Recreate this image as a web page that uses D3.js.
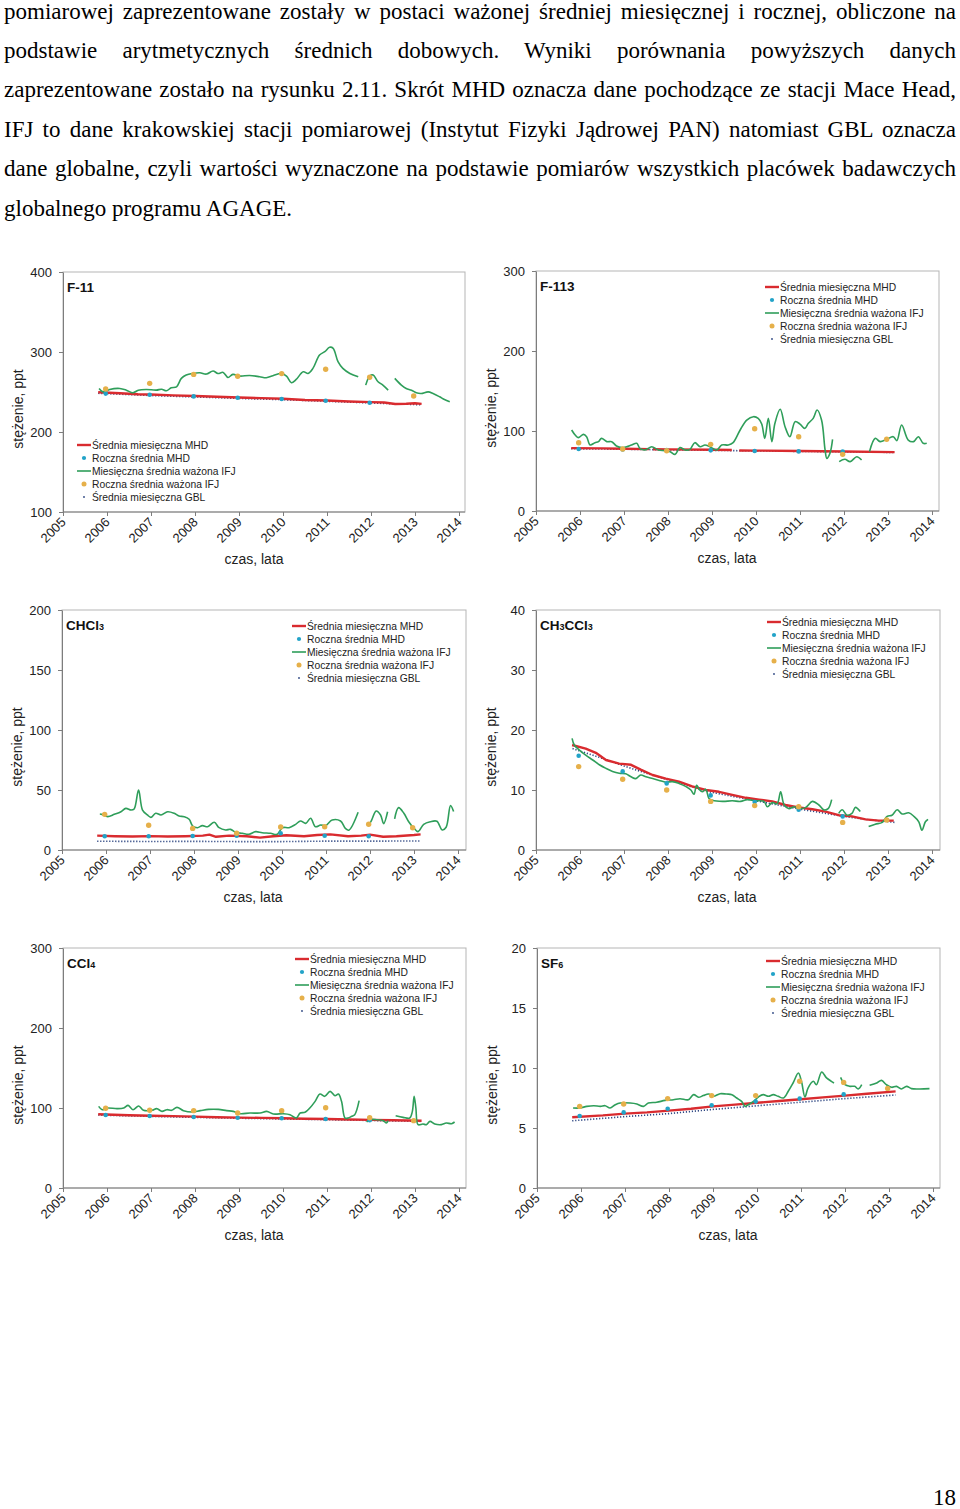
<!DOCTYPE html>
<html><head><meta charset="utf-8">
<script src="https://cdn.jsdelivr.net/npm/d3@7"></script>
<style>
body{margin:0;background:#fff;}
svg{display:block;}
</style></head><body>
<svg id="page" width="960" height="1509"></svg>
<script>
// ---------- text ----------
const paragraphLines = [
  "pomiarowej zaprezentowane zostały w postaci ważonej średniej miesięcznej i rocznej, obliczone na",
  "podstawie arytmetycznych średnich dobowych. Wyniki porównania powyższych danych",
  "zaprezentowane zostało na rysunku 2.11. Skrót MHD oznacza dane pochodzące ze stacji Mace Head,",
  "IFJ to dane krakowskiej stacji pomiarowej (Instytut Fizyki Jądrowej PAN) natomiast GBL oznacza",
  "dane globalne, czyli wartości wyznaczone na podstawie pomiarów wszystkich placówek badawczych",
  "globalnego programu AGAGE."
];
const pageNumber = "18";
const legendLabels = ["Średnia miesięczna MHD","Roczna średnia MHD","Miesięczna średnia ważona IFJ","Roczna średnia ważona IFJ","Średnia miesięczna GBL"];
const xTickYears = [2005,2006,2007,2008,2009,2010,2011,2012,2013,2014];
const xLabel = "czas, lata";
const yLabel = "stężenie, ppt";
const mhdAnnualYears = [2005.97,2006.97,2007.97,2008.97,2009.97,2010.97,2011.97];
const ifjAnnualYears = [2005.97,2006.97,2007.97,2008.97,2009.97,2010.97,2011.97,2012.97];

// ---------- F-11 ----------
const f11Ticks = [100,200,300,400];
const f11Mhd = [[2005.8,249.6],[2006.3,248.5],[2006.7,247.2],[2007,246.8],[2007.5,245.8],[2008,245],[2008.5,244],[2009,243.2],[2009.5,242.3],[2010,241.5],[2010.5,240],[2011,239.3],[2011.5,238.2],[2012,237.3],[2012.3,236.8],[2012.55,235],[2012.8,235.3],[2013,236],[2013.15,235.2]];
const f11Gbl = [[2005.8,248.4],[2007,245.6],[2008,243.8],[2009,242],[2010,240.4],[2011,238.4],[2012,236.3],[2013.15,234]];
const f11Ifj = [[2005.82,254.4],[2005.91,250.2],[2006.06,253.2],[2006.29,254.4],[2006.44,252.3],[2006.59,249],[2006.71,252.3],[2006.89,253.2],[2007.12,252.3],[2007.24,253.5],[2007.35,251.5],[2007.46,255.3],[2007.58,256.5],[2007.69,267],[2007.8,271.2],[2007.95,273.2],[2008.11,274],[2008.26,272.4],[2008.41,276.2],[2008.52,273.2],[2008.64,274.5],[2008.75,268.2],[2008.86,272],[2009.02,269.9],[2009.24,270.7],[2009.47,269.1],[2009.62,267.8],[2009.77,270.3],[2009.96,273.2],[2010.08,269.9],[2010.19,261.5],[2010.3,265.7],[2010.46,275.3],[2010.57,273.2],[2010.68,279.5],[2010.83,296.2],[2010.95,300.4],[2011.06,305.9],[2011.14,304.6],[2011.25,287.9],[2011.36,279.5],[2011.52,273.2],[2011.71,269],
  null,
  [2011.88,258.6],[2011.97,269.9],[2012.05,271.2],[2012.16,262.8],[2012.27,258.6],[2012.39,252.3],
  null,
  [2012.54,267],[2012.69,258.6],[2012.8,254.4],[2012.92,252.3],[2013.03,249],[2013.14,248.1],[2013.3,250.2],[2013.41,248.1],[2013.56,244],[2013.67,240.6],[2013.79,237.7]];
const f11MhdAnnual = [248,246.6,244.5,242.9,241.2,239.1,236.6];
const f11IfjAnnual = [253.7,260.8,272,269.6,273,278.4,268.4,245];

// ---------- F-113 ----------
const f113Ticks = [0,100,200,300];
const f113Mhd = [[2005.8,78.6],[2006.5,78.3],[2007,77.8],[2007.57,77.4],null,[2007.66,77.2],[2008,77],[2009,76.5],[2009.45,76.2],null,[2009.62,75.7],[2010,75.5],[2011,75],[2012,74.4],[2013.15,73.6]];
const f113Gbl = [[2005.8,77.8],[2007,77.2],[2008,76.5],[2009,75.8],[2010,75.1],[2011,74.5],[2012,73.9],[2013.15,73.2]];
const f113Ifj = [[2005.81,101.3],[2005.89,95],[2005.96,91.7],[2006.08,95.8],[2006.15,92.9],[2006.23,82.5],[2006.34,85.4],[2006.42,86.7],[2006.49,90.8],[2006.61,86.7],[2006.72,86.7],[2006.83,81.3],[2006.95,79.2],[2007.06,80.4],[2007.17,82.5],[2007.29,84.6],[2007.36,78.3],[2007.48,76.3],[2007.63,80.4],[2007.78,76.3],[2007.93,75.4],[2008.05,74.2],[2008.16,70.8],[2008.27,79.2],[2008.39,76.3],[2008.5,77.1],[2008.61,85.4],[2008.73,80.4],[2008.84,82.5],[2008.95,80.4],[2009.11,76.3],[2009.22,82.5],[2009.37,82.5],[2009.48,85.4],[2009.64,101.3],[2009.79,113.7],[2009.94,117.9],[2010.05,115.8],[2010.13,108.7],[2010.2,90.8],[2010.28,115.8],[2010.36,86.7],[2010.43,109.6],[2010.55,127.1],[2010.66,105.4],[2010.77,92.9],[2010.89,111.7],[2011,108.7],[2011.11,103.3],[2011.19,109.6],[2011.3,115.8],[2011.39,126.2],[2011.49,113.7],[2011.57,76.3],[2011.61,65.8],[2011.68,72],[2011.74,89.6],
  null,
  [2011.89,61.7],[2012.02,64.6],[2012.14,61.7],[2012.29,67.9],[2012.4,63.7],
  null,
  [2012.58,74.2],[2012.71,90.8],[2012.82,86.7],[2012.97,89.6],[2013.12,92.9],[2013.2,87.9],[2013.31,107.5],[2013.46,88.7],[2013.58,86.7],[2013.69,92.9],[2013.8,84.6],[2013.88,84.6]];
const f113MhdAnnual = [77.5,77,76.2,75.8,75,74.5,74.2];
const f113IfjAnnual = [85.4,77.5,75.4,83.3,102.9,92.9,70.8,89.6];

// ---------- CHCl3 ----------
const chcl3Ticks = [0,50,100,150,200];
const chcl3Mhd = [[2005.8,12],[2006.2,11.5],[2006.6,11.2],[2007,11.6],[2007.4,11.3],[2007.8,11.5],[2008.2,12],[2008.35,12.8],[2008.5,11],[2008.8,12],[2009.2,11.5],[2009.5,10.3],[2009.8,11.5],[2010.1,12.3],[2010.5,11.5],[2010.8,12.5],[2011.1,13],[2011.5,11.5],[2011.8,12],[2012,12.8],[2012.3,11],[2012.6,11.5],[2013,12.5],[2013.15,13]];
const chcl3Gbl = [[2005.8,7.3],[2007,7.1],[2008,7.2],[2009,7],[2010,7],[2011,7.4],[2012,7.4],[2013.15,7.5]];
const chcl3Ifj = [[2005.86,30],[2005.91,29.7],[2006.04,27.8],[2006.19,29.7],[2006.34,31.9],[2006.45,34.7],[2006.57,33.3],[2006.64,34.2],[2006.74,50],[2006.83,33.3],[2006.94,29.2],[2007.02,27.2],[2007.13,30.6],[2007.25,29.2],[2007.4,31.9],[2007.55,30.6],[2007.66,28.3],[2007.78,27.8],[2007.89,25.6],[2007.97,20],[2008.08,18.6],[2008.19,20.3],[2008.31,19.4],[2008.46,23.1],[2008.57,18.6],[2008.72,16.7],[2008.83,17.2],[2008.95,14.7],[2009.1,13.9],[2009.25,13.1],[2009.4,15.3],[2009.55,14.4],[2009.74,13.9],[2009.89,13.1],[2010.01,18.6],[2010.16,18.6],[2010.31,21.4],[2010.42,24.2],[2010.54,22.2],[2010.65,26.4],[2010.76,19.4],[2010.88,20.8],[2010.99,20.3],[2011.14,25],[2011.33,24.2],[2011.44,18],[2011.52,16.5],[2011.73,31.4],
  null,
  [2011.94,21.4],[2012.01,23.1],[2012.14,32.5],[2012.24,29.2],[2012.31,22],[2012.4,31.9],
  null,
  [2012.56,26],[2012.65,35.3],[2012.77,30.6],[2012.88,23.6],[2012.99,18.5],[2013.09,15.3],[2013.22,21.4],[2013.37,23.6],[2013.52,24],[2013.64,16.7],[2013.73,19],[2013.83,37],[2013.9,32]];
const chcl3MhdAnnual = [11.4,11.4,11.7,11.9,13.9,11.9,11.4];
const chcl3IfjAnnual = [29.7,20.6,18,13.9,19.2,19.4,21.4,18.6];

// ---------- CH3CCl3 ----------
const ch3ccl3Ticks = [0,10,20,30,40];
const ch3ccl3Mhd = [[2005.82,17.5],[2006.13,16.9],[2006.36,16.2],[2006.59,15],[2006.89,14.4],[2007.16,14.2],[2007.38,13.4],[2007.65,12.5],[2007.95,11.9],[2008.25,11.4],[2008.55,10.6],[2008.86,10],[2009.16,9.7],[2009.46,9.2],[2009.77,8.7],[2010.07,8.4],[2010.37,8.1],[2010.67,7.5],[2010.97,7.1],[2011.28,6.8],[2011.58,6.4],[2011.88,5.8],[2012.18,5.6],[2012.49,5.1],[2012.79,4.9],[2013.13,4.9]];
const ch3ccl3Gbl = [[2005.83,16.9],[2006.5,15.3],[2007,14],[2007.5,12.8],[2008,11.7],[2008.5,10.6],[2009,9.6],[2009.5,8.9],[2010,8.2],[2010.5,7.5],[2011,6.8],[2011.5,6.2],[2012,5.6],[2012.5,5.1],[2013.15,4.6]];
const ch3ccl3Ifj = [[2005.82,18.6],[2005.87,17.5],[2005.98,16.7],[2006.13,15.8],[2006.29,15],[2006.44,14.2],[2006.59,13.6],[2006.74,13.1],[2006.89,12.8],[2007.04,12.7],[2007.16,12.2],[2007.27,11.9],[2007.38,12.5],[2007.5,12.2],[2007.65,11.9],[2007.8,11.6],[2007.95,11.3],[2008.1,11.4],[2008.25,11.1],[2008.4,10.6],[2008.52,10],[2008.59,9.3],[2008.65,10.8],[2008.71,10.1],[2008.78,9.7],[2008.86,10.1],[2008.93,8.6],[2009.01,8.3],[2009.24,8.1],[2009.46,8.2],[2009.65,8.1],[2009.8,8.4],[2009.99,8.2],[2010.18,8.1],[2010.26,7.2],[2010.37,7.9],[2010.48,7.7],[2010.56,9.7],[2010.64,7.5],[2010.75,6.9],[2010.86,7.2],[2010.97,6.9],[2011.13,7.1],[2011.28,8.1],[2011.43,7.5],[2011.54,6.7],[2011.64,6.9],[2011.72,8.4],
  null,
  [2011.88,6.1],[2011.96,6.7],[2012.07,5.8],[2012.18,6.1],[2012.26,7.1],[2012.37,6.4],
  null,
  [2012.56,3.9],[2012.71,4.3],[2012.87,4.6],[2012.98,5.6],[2013.09,5.8],[2013.21,6.7],[2013.32,6],[2013.47,6.2],[2013.59,5.6],[2013.7,4.7],[2013.77,3.3],[2013.85,4.7],[2013.91,5.1]];
const ch3ccl3MhdAnnual = [15.7,13.1,11.1,9.1,8.0,6.7,5.6];
const ch3ccl3IfjAnnual = [13.9,11.8,10,8.1,7.4,7.2,4.6,5];

// ---------- CCl4 ----------
const ccl4Ticks = [0,100,200,300];
const ccl4Mhd = [[2005.8,92.2],[2006.5,91],[2007,90.4],[2007.5,89.8],[2008,89.2],[2008.5,88.5],[2009,88],[2009.5,87.6],[2010,87.1],[2010.5,86.6],[2011,86.2],[2011.5,85.6],[2012,85.2],[2012.5,84.6],[2013.15,84]];
const ccl4Gbl = [[2005.8,91.2],[2007,89.5],[2008,88.3],[2009,87.2],[2010,86.3],[2011,85.4],[2012,84.4],[2013.15,83.3]];
const ccl4Ifj = [[2005.81,102],[2005.89,97.9],[2006,100],[2006.23,99.2],[2006.38,100],[2006.48,103.3],[2006.59,97.9],[2006.72,102.5],[2006.83,97.1],[2007.02,97.1],[2007.13,99.2],[2007.25,95.8],[2007.36,97.9],[2007.47,97.1],[2007.59,100.8],[2007.74,96.7],[2007.93,95],[2008.12,96.7],[2008.31,98.3],[2008.53,98.3],[2008.72,96.7],[2008.87,95.8],[2009.02,92.9],[2009.25,93.7],[2009.48,93.7],[2009.63,95.8],[2009.78,92.5],[2010.01,92.9],[2010.16,91.7],[2010.3,87.5],[2010.39,93.7],[2010.5,94.6],[2010.61,100],[2010.73,108.3],[2010.84,117.5],[2010.95,114.6],[2011.07,120.8],[2011.18,115.4],[2011.26,117.5],[2011.33,108.3],[2011.41,87.5],[2011.48,87.5],[2011.56,89.6],[2011.63,91.7],[2011.73,109.2],
  null,
  [2011.9,82.5],[2011.97,85.4],[2012.13,85.4],[2012.28,84.2],[2012.35,81.2],[2012.39,84.2],
  null,
  [2012.56,90.4],[2012.73,88.3],[2012.88,87.5],[2012.94,95.8],[2012.98,114.6],[2013.02,100],[2013.07,79.2],[2013.18,80],[2013.26,79.2],[2013.34,83.3],[2013.45,80],[2013.6,79.2],[2013.71,81.2],[2013.83,80.4],[2013.9,82.5]];
const ccl4MhdAnnual = [91.2,90,88.7,87.9,87.1,86.2,84.6];
const ccl4IfjAnnual = [99.6,97.1,96.7,93.7,96.7,100.4,87.9,84.2];

// ---------- SF6 ----------
const sf6Ticks = [0,5,10,15,20];
const sf6Mhd = [[2005.8,5.9],[2006.5,6.05],[2007,6.2],[2007.5,6.3],[2008,6.45],[2008.5,6.6],[2009,6.8],[2009.5,6.95],[2010,7.1],[2010.5,7.25],[2011,7.4],[2011.5,7.55],[2012,7.7],[2012.5,7.85],[2013.15,8.05]];
const sf6Gbl = [[2005.8,5.6],[2007,5.95],[2008,6.2],[2009,6.55],[2010,6.85],[2011,7.15],[2012,7.45],[2013.15,7.75]];
const sf6Ifj = [[2005.82,6.67],[2005.98,6.67],[2006.13,6.8],[2006.29,6.86],[2006.44,6.8],[2006.55,6.86],[2006.66,6.67],[2006.78,6.94],[2006.89,7.08],[2007.12,7.08],[2007.27,7],[2007.42,6.8],[2007.53,7.08],[2007.72,7.14],[2007.91,7.3],[2008.1,7.36],[2008.25,7.44],[2008.44,7.36],[2008.56,7.78],[2008.67,7.56],[2008.78,7.7],[2008.9,7.83],[2009.01,7.64],[2009.16,7.86],[2009.31,7.83],[2009.43,7.78],[2009.54,7.5],[2009.65,7.22],[2009.73,6.8],[2009.8,6.94],[2009.92,7.22],[2010.03,7.58],[2010.14,7.78],[2010.26,7.64],[2010.37,7.78],[2010.48,7.64],[2010.6,7.5],[2010.71,8.06],[2010.82,8.75],[2010.94,9.58],[2011.01,8.89],[2011.09,7.58],[2011.16,8.33],[2011.28,8.89],[2011.35,8.61],[2011.47,9.67],[2011.58,9.17],[2011.69,8.89],[2011.75,8.75],
  null,
  [2011.9,9.22],[2012,8.61],[2012.11,8.47],[2012.22,8.47],[2012.3,8.25],[2012.38,8.61],
  null,
  [2012.56,8.56],[2012.72,8.75],[2012.83,8.97],[2012.94,8.61],[2013.06,8.39],[2013.17,8.47],[2013.28,8.25],[2013.4,8.47],[2013.51,8.28],[2013.7,8.25],[2013.92,8.28]];
const sf6MhdAnnual = [6.0,6.3,6.6,6.9,7.2,7.45,7.8];
const sf6IfjAnnual = [6.8,7.0,7.45,7.7,7.7,8.9,8.8,8.3];

// ---------- panel table (layout + references to data arrays) ----------
const panels = [
  {title:[["F-11",0]], x0:63, x1:465, y0:272, y1:512, ymin:100, ymax:400, ticks:f11Ticks, lx:77, ly:445,
   mhd:f11Mhd, gbl:f11Gbl, ifj:f11Ifj, mhdA:f11MhdAnnual, ifjA:f11IfjAnnual},
  {title:[["F-113",0]], x0:536, x1:939, y0:271, y1:511, ymin:0, ymax:300, ticks:f113Ticks, lx:765, ly:287,
   mhd:f113Mhd, gbl:f113Gbl, ifj:f113Ifj, mhdA:f113MhdAnnual, ifjA:f113IfjAnnual},
  {title:[["CHCl",0],["3",1]], x0:62, x1:466, y0:610, y1:850, ymin:0, ymax:200, ticks:chcl3Ticks, lx:292, ly:626,
   mhd:chcl3Mhd, gbl:chcl3Gbl, ifj:chcl3Ifj, mhdA:chcl3MhdAnnual, ifjA:chcl3IfjAnnual},
  {title:[["CH",0],["3",1],["CCl",0],["3",1]], x0:536, x1:940, y0:610, y1:850, ymin:0, ymax:40, ticks:ch3ccl3Ticks, lx:767, ly:622,
   mhd:ch3ccl3Mhd, gbl:ch3ccl3Gbl, ifj:ch3ccl3Ifj, mhdA:ch3ccl3MhdAnnual, ifjA:ch3ccl3IfjAnnual},
  {title:[["CCl",0],["4",1]], x0:63, x1:466, y0:948, y1:1188, ymin:0, ymax:300, ticks:ccl4Ticks, lx:295, ly:959,
   mhd:ccl4Mhd, gbl:ccl4Gbl, ifj:ccl4Ifj, mhdA:ccl4MhdAnnual, ifjA:ccl4IfjAnnual},
  {title:[["SF",0],["6",1]], x0:537, x1:940, y0:948, y1:1188, ymin:0, ymax:20, ticks:sf6Ticks, lx:766, ly:961,
   mhd:sf6Mhd, gbl:sf6Gbl, ifj:sf6Ifj, mhdA:sf6MhdAnnual, ifjA:sf6IfjAnnual}
];

const C = {red:"#d92b2f", green:"#2f9e5a", blue:"#22a3c8", orange:"#e6b04a", gbl:"#2d4682", axis:"#7d7d7d", frame:"#b5b5b5", text:"#222"};
const SANS = "'Liberation Sans', Arial, Helvetica, sans-serif";
const SERIF = "'Liberation Serif', 'Times New Roman', serif";

const svg = d3.select("#page");

// paragraph
const para = svg.append("g").attr("font-family", SERIF).attr("font-size", 23).attr("fill", "#000");
paragraphLines.forEach((t, i) => {
  const tx = para.append("text").attr("x", 4).attr("y", 18.5 + i * 39.4).text(t);
  if (i < paragraphLines.length - 1) {
    const L = tx.node().getComputedTextLength();
    const n = (t.match(/ /g) || []).length;
    if (L < 952) tx.attr("word-spacing", (952 - L) / n);
    else tx.attr("textLength", 952).attr("lengthAdjust", "spacingAndGlyphs");
  }
});
svg.append("text").attr("x", 956).attr("y", 1505).attr("text-anchor", "end")
  .attr("font-family", SERIF).attr("font-size", 23).text(pageNumber);

function drawPanel(p) {
  const g = svg.append("g").attr("font-family", SANS);
  const x = d3.scaleLinear().domain([2005, 2014]).range([p.x0, p.x0 + 396]);
  const y = d3.scaleLinear().domain([p.ymin, p.ymax]).range([p.y1, p.y0]);

  g.append("rect").attr("x", p.x0).attr("y", p.y0).attr("width", p.x1 - p.x0).attr("height", p.y1 - p.y0)
    .attr("fill", "none").attr("stroke", C.frame).attr("stroke-width", 1);

  const ya = g.append("g").attr("transform", `translate(${p.x0},0)`)
    .call(d3.axisLeft(y).tickValues(p.ticks).tickSize(4).tickSizeOuter(0).tickPadding(7).tickFormat(d3.format("d")));
  ya.selectAll("path,line").attr("stroke", C.axis);
  ya.selectAll("text").attr("font-size", 13).attr("fill", C.text).attr("font-family", SANS);

  const xa = g.append("g").attr("transform", `translate(0,${p.y1})`)
    .call(d3.axisBottom(x).tickValues(xTickYears).tickSize(4).tickSizeOuter(0).tickFormat(d3.format("d")));
  xa.select(".domain").attr("d", `M${p.x0},0H${p.x1}`);
  xa.selectAll("path,line").attr("stroke", C.axis);
  xa.selectAll("text").attr("font-size", 13).attr("fill", C.text).attr("font-family", SANS)
    .attr("text-anchor", "end").attr("x", 0).attr("y", 0).attr("dy", 0)
    .attr("transform", "translate(3,11) rotate(-45)");

  g.append("text").attr("x", p.x0 + 191).attr("y", p.y1 + 52).attr("text-anchor", "middle")
    .attr("font-size", 14).attr("fill", C.text).text(xLabel);
  g.append("text").attr("transform", `translate(${p.x0 - 40},${(p.y0 + p.y1) / 2 + 17}) rotate(-90)`)
    .attr("text-anchor", "middle").attr("font-size", 14).attr("fill", C.text).text(yLabel);

  const title = g.append("text").attr("x", p.x0 + 4).attr("y", p.y0 + 20).attr("font-weight", "bold")
    .attr("font-size", 13.5).attr("fill", "#111");
  p.title.forEach(([t, sub]) => title.append("tspan").attr("font-size", sub ? 9 : 13.5).text(t));

  const line = d3.line().defined(d => d !== null).x(d => x(d[0])).y(d => y(d[1]));
  const smooth = d3.line().defined(d => d !== null).x(d => x(d[0])).y(d => y(d[1])).curve(d3.curveCatmullRom.alpha(0.5));

  g.append("path").datum(p.gbl).attr("d", line).attr("fill", "none").attr("stroke", C.gbl)
    .attr("stroke-width", 1.6).attr("stroke-dasharray", "1.2,1.8");
  g.append("path").datum(p.mhd).attr("d", line).attr("fill", "none").attr("stroke", C.red)
    .attr("stroke-width", 2.4).attr("stroke-linejoin", "round");
  g.append("path").datum(p.ifj).attr("d", smooth).attr("fill", "none").attr("stroke", C.green)
    .attr("stroke-width", 1.6).attr("stroke-linejoin", "round");

  g.selectAll(null).data(p.mhdA).join("circle")
    .attr("cx", (d, i) => x(mhdAnnualYears[i])).attr("cy", d => y(d)).attr("r", 2.3).attr("fill", C.blue);
  g.selectAll(null).data(p.ifjA).join("circle")
    .attr("cx", (d, i) => x(ifjAnnualYears[i])).attr("cy", d => y(d)).attr("r", 2.7).attr("fill", C.orange);

  // legend
  const lg = g.append("g").attr("transform", `translate(${p.lx},${p.ly})`);
  legendLabels.forEach((lab, i) => {
    const row = lg.append("g").attr("transform", `translate(0,${i * 13})`);
    if (i === 0) row.append("line").attr("x1", 0).attr("x2", 14).attr("stroke", C.red).attr("stroke-width", 2.4);
    if (i === 1) row.append("circle").attr("cx", 7).attr("r", 2.1).attr("fill", C.blue);
    if (i === 2) row.append("line").attr("x1", 0).attr("x2", 14).attr("stroke", C.green).attr("stroke-width", 1.6);
    if (i === 3) row.append("circle").attr("cx", 7).attr("r", 2.5).attr("fill", C.orange);
    if (i === 4) row.append("circle").attr("cx", 7).attr("r", 0.9).attr("fill", C.gbl);
    row.append("text").attr("x", 15).attr("y", 0).attr("dy", "0.35em").attr("font-size", 10.3)
      .attr("fill", C.text).text(lab);
  });
}

panels.forEach(drawPanel);
</script>
</body></html>
